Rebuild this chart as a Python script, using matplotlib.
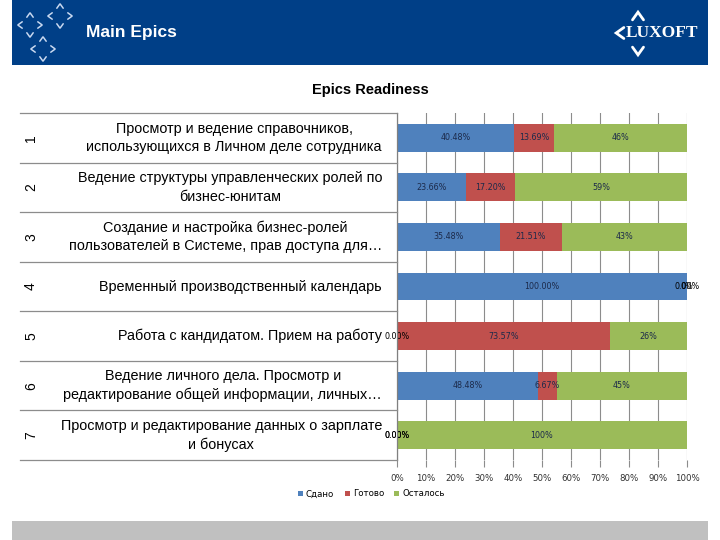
import matplotlib
matplotlib.use("Agg")
import matplotlib.pyplot as plt
import matplotlib.transforms as mtransforms
from matplotlib.lines import Line2D
from matplotlib.patches import Rectangle
import numpy as np

# ---- data ----
categories = [
    "Просмотр и ведение справочников,\nиспользующихся в Личном деле сотрудника",
    "Ведение структуры управленческих ролей по\nбизнес-юнитам",
    "Создание и настройка бизнес-ролей\nпользователей в Системе, прав доступа для…",
    "Временный производственный календарь",
    "Работа с кандидатом. Прием на работу",
    "Ведение личного дела. Просмотр и\nредактирование общей информации, личных…",
    "Просмотр и редактирование данных о зарплате\nи бонусах",
]
row_numbers = ["1", "2", "3", "4", "5", "6", "7"]
series_names = ["Сдано", "Готово", "Осталось"]
sdano = [40.48, 23.66, 35.48, 100.00, 0.00, 48.48, 0.00]
gotovo = [13.69, 17.20, 21.51, 0.00, 73.57, 6.67, 0.00]
ostalos = [45.83, 59.14, 43.01, 0.00, 26.43, 44.85, 100.00]
xticks = [0, 10, 20, 30, 40, 50, 60, 70, 80, 90, 100]
xtick_labels = ["0%", "10%", "20%", "30%", "40%", "50%", "60%", "70%", "80%", "90%", "100%"]
chart_title = "Epics Readiness"
header_title = "Main Epics"
logo_text = "LUXOFT"

colors = ["#4f81bd", "#c0504d", "#9bbb59"]
W, H = 720, 540


def fx(x):
    return x / W


def fy(y):
    return 1 - y / H


fig = plt.figure(figsize=(7.2, 5.4), dpi=100)
fig.patch.set_facecolor("white")

# ---- header band ----
fig.patches.append(Rectangle((fx(12), fy(65)), fx(708) - fx(12), fy(0) - fy(65),
                             transform=fig.transFigure, facecolor="#003f87",
                             edgecolor="none", zorder=0))
fig.text(fx(86), fy(33), header_title, color="white", fontsize=12.5,
         fontweight="bold", family="Liberation Sans", ha="left", va="center")


def chevron(cx, cy, direction, size=4.0, color="#c8d8f0", lw=1.1):
    s = size
    if direction == "up":
        pts = [(cx - s, cy + s * 0.7), (cx, cy - s * 0.7), (cx + s, cy + s * 0.7)]
    elif direction == "down":
        pts = [(cx - s, cy - s * 0.7), (cx, cy + s * 0.7), (cx + s, cy - s * 0.7)]
    elif direction == "left":
        pts = [(cx + s * 0.7, cy - s), (cx - s * 0.7, cy), (cx + s * 0.7, cy + s)]
    else:
        pts = [(cx - s * 0.7, cy - s), (cx + s * 0.7, cy), (cx - s * 0.7, cy + s)]
    xs = [fx(p[0]) for p in pts]
    ys = [fy(p[1]) for p in pts]
    fig.lines.append(Line2D(xs, ys, transform=fig.transFigure, color=color, lw=lw,
                            solid_capstyle="round", solid_joinstyle="miter"))


for (cx, cy) in [(30, 25), (60, 16), (43, 49)]:
    d = 10
    chevron(cx, cy - d, "up", 3.2)
    chevron(cx, cy + d, "down", 3.2)
    chevron(cx - d, cy, "left", 3.2)
    chevron(cx + d, cy, "right", 3.2)

# logo
chevron(638, 16, "up", 5.5, color="white", lw=2.0)
chevron(638, 51, "down", 5.5, color="white", lw=2.0)
chevron(620, 33, "left", 5.5, color="white", lw=2.0)
fig.text(fx(626), fy(33), logo_text, color="white", fontsize=12.5,
         family="Liberation Serif", fontweight="bold", ha="left", va="center")

# ---- bottom band ----
fig.patches.append(Rectangle((fx(12), fy(540)), fx(708) - fx(12), fy(521) - fy(540),
                             transform=fig.transFigure, facecolor="#c0c0c0",
                             edgecolor="none", zorder=0))

# ---- chart title ----
fig.text(fx(370), fy(90), chart_title, fontsize=10.5, fontweight="bold",
         family="Liberation Sans", ha="center", va="center", color="#000000")

# ---- bars ----
ax = fig.add_axes([fx(397), fy(460), fx(687) - fx(397), fy(113) - fy(460)])
y = np.arange(len(categories))
vals = [sdano, gotovo, ostalos]
left = np.zeros(len(categories))
bar_h = 0.56
for k, (name, v) in enumerate(zip(series_names, vals)):
    v = np.array(v)
    ax.barh(y, v, left=left, height=bar_h, color=colors[k], label=name, zorder=3)
    for i in range(len(v)):
        c = left[i] + v[i] / 2
        txt = f"{v[i]:.2f}%" if k < 2 else f"{v[i]:.0f}%"
        col = "#1c2a4a" if v[i] > 0 else "#000000"
        ax.text(c, y[i], txt, ha="center", va="center", fontsize=5.8,
                color=col, zorder=5, clip_on=False, family="DejaVu Sans")
    left = left + v

ax.set_xlim(0, 100)
ax.set_ylim(len(categories) - 0.5, -0.5)
ax.set_xticks(xticks)
ax.set_xticklabels(xtick_labels, fontsize=6.2, color="#303030", family="DejaVu Sans")
ax.set_yticks([])
ax.grid(axis="x", color="#8c8c8c", lw=0.8, zorder=0)
ax.set_axisbelow(True)
for s in ["top", "right", "bottom"]:
    ax.spines[s].set_visible(False)
ax.spines["left"].set_color("#808080")
ax.spines["left"].set_linewidth(0.9)
ax.spines["left"].set_zorder(6)
ax.tick_params(axis="x", length=5, color="#8c8c8c", pad=5)

# ---- table on the left ----
blend = mtransforms.blended_transform_factory(fig.transFigure, ax.transData)
for b in np.arange(-0.5, len(categories) + 0.5, 1.0):
    fig.lines.append(Line2D([fx(20), fx(397)], [b, b], transform=blend,
                            color="#8c8c8c", lw=0.9))
for i, (num, cat) in enumerate(zip(row_numbers, categories)):
    ax.text(fx(31), i, num, transform=blend, rotation=90, ha="center", va="center",
            fontsize=10, family="Liberation Sans", color="#000000")
    ax.text(fx(382), i, cat, transform=blend, ha="right", va="center",
            multialignment="center", fontsize=10.4, family="Liberation Sans",
            linespacing=1.4, color="#000000")

# ---- legend ----
leg = fig.legend(loc="center left", bbox_to_anchor=(fx(290), fy(494)), ncol=3,
                 frameon=False, handlelength=0.6, handleheight=0.6,
                 handletextpad=0.35, columnspacing=1.2,
                 prop={"family": "DejaVu Sans", "size": 6.2})

fig.savefig("out.png", dpi=100)
